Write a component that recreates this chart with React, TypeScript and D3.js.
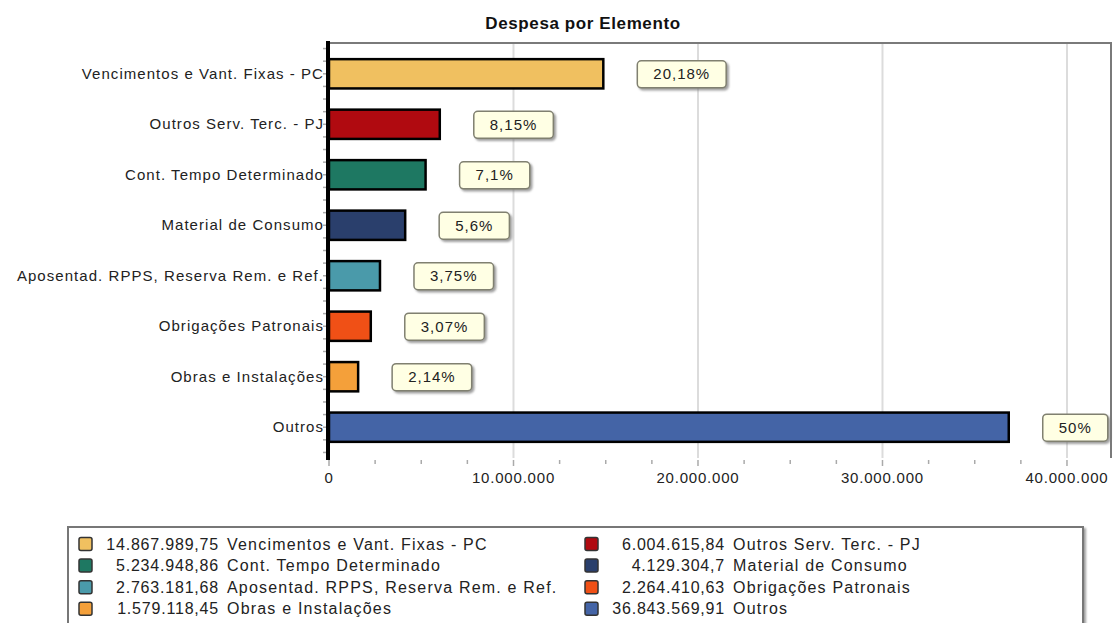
import { useRef, useEffect } from 'react'
import * as d3 from 'd3'

const categories = [
  'Vencimentos e Vant. Fixas - PC',
  'Outros Serv. Terc. - PJ',
  'Cont. Tempo Determinado',
  'Material de Consumo',
  'Aposentad. RPPS, Reserva Rem. e Ref.',
  'Obrigações Patronais',
  'Obras e Instalações',
  'Outros',
]
const values = [
  14867989.75, 6004615.84, 5234948.86, 4129304.7, 2763181.68, 2264410.63, 1579118.45,
  36843569.91,
]
const colors = ['#F0C060', '#B00A10', '#1E7862', '#2A3F6C', '#4A9AAA', '#F05016', '#F4A03A', '#4464A6']
const xTicks = [0, 10000000, 20000000, 30000000, 40000000]
const title = 'Despesa por Elemento'

const ptBR = d3.formatLocale({ decimal: ',', thousands: '.', grouping: [3], currency: ['R$', ''] })
const fmtMoney = ptBR.format(',.2~f')
const fmtTick = ptBR.format(',d')
const fmtPct = ptBR.format('.2~f')

const FONT = '"Liberation Sans", Arial, sans-serif'
const W = 1115
const H = 623

export default function App() {
  const ref = useRef<HTMLDivElement>(null)

  useEffect(() => {
    if (!ref.current) return
    document.body.style.margin = '0'
    d3.select(ref.current).selectAll('*').remove()

    const plot = { left: 329, right: 1112, top: 43, bottom: 458 }
    const total = d3.sum(values)

    const svg = d3
      .select(ref.current)
      .append('svg')
      .attr('width', W)
      .attr('height', H)
      .style('display', 'block')
      .style('background', '#fff')

    const defs = svg.append('defs')
    const f = defs.append('filter').attr('id', 'shadow').attr('x', '-20%').attr('y', '-20%').attr('width', '140%').attr('height', '160%')
    f.append('feDropShadow').attr('dx', 2).attr('dy', 2).attr('stdDeviation', 1).attr('flood-color', '#777').attr('flood-opacity', 0.7)

    // Scales
    const x = d3.scaleLinear().domain([0, 42440000]).range([plot.left, plot.right])
    const y = d3
      .scaleBand<string>()
      .domain(categories)
      .range([plot.top, plot.bottom])
      .paddingInner(0.42)
      .paddingOuter(0.32)

    // Title
    svg
      .append('text')
      .attr('x', 583)
      .attr('y', 29)
      .attr('text-anchor', 'middle')
      .attr('font-family', FONT)
      .attr('font-weight', 'bold')
      .attr('font-size', '17px')
      .attr('letter-spacing', '0.6px')
      .attr('fill', '#111')
      .text(title)

    // Gridlines
    svg
      .append('g')
      .selectAll('line')
      .data(xTicks.filter((t) => t > 0))
      .join('line')
      .attr('x1', (d) => x(d))
      .attr('x2', (d) => x(d))
      .attr('y1', plot.top)
      .attr('y2', plot.bottom)
      .attr('stroke', '#dcdcdc')
      .attr('stroke-width', 2)

    // Frame (top/right)
    svg
      .append('path')
      .attr('d', `M${plot.left},${plot.top}H${plot.right - 1}V${plot.bottom}`)
      .attr('fill', 'none')
      .attr('stroke', '#7a7a7a')
      .attr('stroke-width', 2)

    // Bars
    svg
      .append('g')
      .selectAll('rect')
      .data(values)
      .join('rect')
      .attr('x', x(0))
      .attr('y', (_, i) => y(categories[i])!)
      .attr('width', (d) => x(d) - x(0))
      .attr('height', y.bandwidth())
      .attr('fill', (_, i) => colors[i])
      .attr('stroke', '#000')
      .attr('stroke-width', 2.5)

    // Percentage labels
    const lab = svg
      .append('g')
      .selectAll('g')
      .data(values)
      .join('g')
      .attr('transform', (d, i) => `translate(${x(d) + 34},${y(categories[i])! + y.bandwidth() / 2})`)
    const rects = lab
      .append('rect')
      .attr('y', -13)
      .attr('height', 27)
      .attr('rx', 4)
      .attr('fill', '#FFFFE4')
      .attr('stroke', '#808070')
      .attr('stroke-width', 1.5)
      .attr('filter', 'url(#shadow)')
    const texts = lab
      .append('text')
      .attr('y', 5.5)
      .attr('text-anchor', 'middle')
      .attr('font-family', FONT)
      .attr('font-size', '15px')
      .attr('letter-spacing', '1px')
      .attr('fill', '#222')
      .text((d) => fmtPct((d / total) * 100) + '%')
    texts.each(function (_, i) {
      const w = (this as SVGTextElement).getComputedTextLength()
      const bw = w + 32
      d3.select(rects.nodes()[i]).attr('x', 0).attr('width', bw)
      d3.select(this).attr('x', bw / 2)
    })

    // Left axis
    const minor = d3.range(y(categories[0])! + y.bandwidth() / 2 - y.step() / 2, plot.bottom, y.step() / 4)
    svg
      .append('g')
      .selectAll('line')
      .data(minor)
      .join('line')
      .attr('x1', plot.left - 6)
      .attr('x2', plot.left - 2)
      .attr('y1', (d) => d)
      .attr('y2', (d) => d)
      .attr('stroke', '#aaa')
      .attr('stroke-width', 1.5)
    svg
      .append('g')
      .selectAll('text')
      .data(categories)
      .join('text')
      .attr('x', plot.left - 5)
      .attr('y', (d) => y(d)! + y.bandwidth() / 2 + 5)
      .attr('text-anchor', 'end')
      .attr('font-family', FONT)
      .attr('font-size', '15px')
      .attr('letter-spacing', '1.05px')
      .attr('fill', '#222')
      .text((d) => d)
    svg
      .append('line')
      .attr('x1', plot.left - 1)
      .attr('x2', plot.left - 1)
      .attr('y1', plot.top - 2)
      .attr('y2', plot.bottom + 2)
      .attr('stroke', '#000')
      .attr('stroke-width', 4)

    // Bottom axis
    const minorX = d3.range(0, 42000001, 2500000)
    svg
      .append('g')
      .selectAll('line')
      .data(minorX)
      .join('line')
      .attr('x1', (d) => x(d))
      .attr('x2', (d) => x(d))
      .attr('y1', plot.bottom + 2)
      .attr('y2', (d) => plot.bottom + (d % 10000000 === 0 ? 8 : 6))
      .attr('stroke', '#aaa')
      .attr('stroke-width', 1.5)
    svg
      .append('line')
      .attr('x1', plot.left - 3)
      .attr('x2', plot.right)
      .attr('y1', plot.bottom)
      .attr('y2', plot.bottom)
      .attr('stroke', '#000')
      .attr('stroke-width', 4)
      .attr('filter', 'url(#shadow)')
    svg
      .append('g')
      .selectAll('text')
      .data(xTicks)
      .join('text')
      .attr('x', (d) => x(d))
      .attr('y', plot.bottom + 25)
      .attr('text-anchor', 'middle')
      .attr('font-family', FONT)
      .attr('font-size', '15px')
      .attr('letter-spacing', '0.8px')
      .attr('fill', '#222')
      .text((d) => fmtTick(d))

    // Legend
    const leg = { x: 68, y: 527, w: 1015, rowH: 21.6, colW: 506 }
    svg
      .append('rect')
      .attr('x', leg.x)
      .attr('y', leg.y)
      .attr('width', leg.w)
      .attr('height', 140)
      .attr('fill', '#fff')
      .attr('stroke', '#777')
      .attr('stroke-width', 2)
      .attr('filter', 'url(#shadow)')
    const items = svg
      .append('g')
      .selectAll('g')
      .data(values)
      .join('g')
      .attr('transform', (_, i) => `translate(${leg.x + 11 + (i % 2) * leg.colW},${leg.y + 17 + Math.floor(i / 2) * leg.rowH})`)
    items
      .append('rect')
      .attr('x', 0)
      .attr('y', -6.5)
      .attr('width', 13)
      .attr('height', 13)
      .attr('rx', 2)
      .attr('fill', (_, i) => colors[i])
      .attr('stroke', '#333')
      .attr('stroke-width', 1.5)
    items
      .append('text')
      .attr('x', 140)
      .attr('y', 5.5)
      .attr('text-anchor', 'end')
      .attr('font-family', FONT)
      .attr('font-size', '16px')
      .attr('letter-spacing', '0.8px')
      .attr('fill', '#222')
      .text((d) => fmtMoney(d))
    items
      .append('text')
      .attr('x', 148)
      .attr('y', 5.5)
      .attr('font-family', FONT)
      .attr('font-size', '16px')
      .attr('letter-spacing', '1.2px')
      .attr('fill', '#222')
      .text((_, i) => categories[i])
  }, [])

  return <div ref={ref} style={{ width: W, height: H, overflow: 'hidden' }} />
}
